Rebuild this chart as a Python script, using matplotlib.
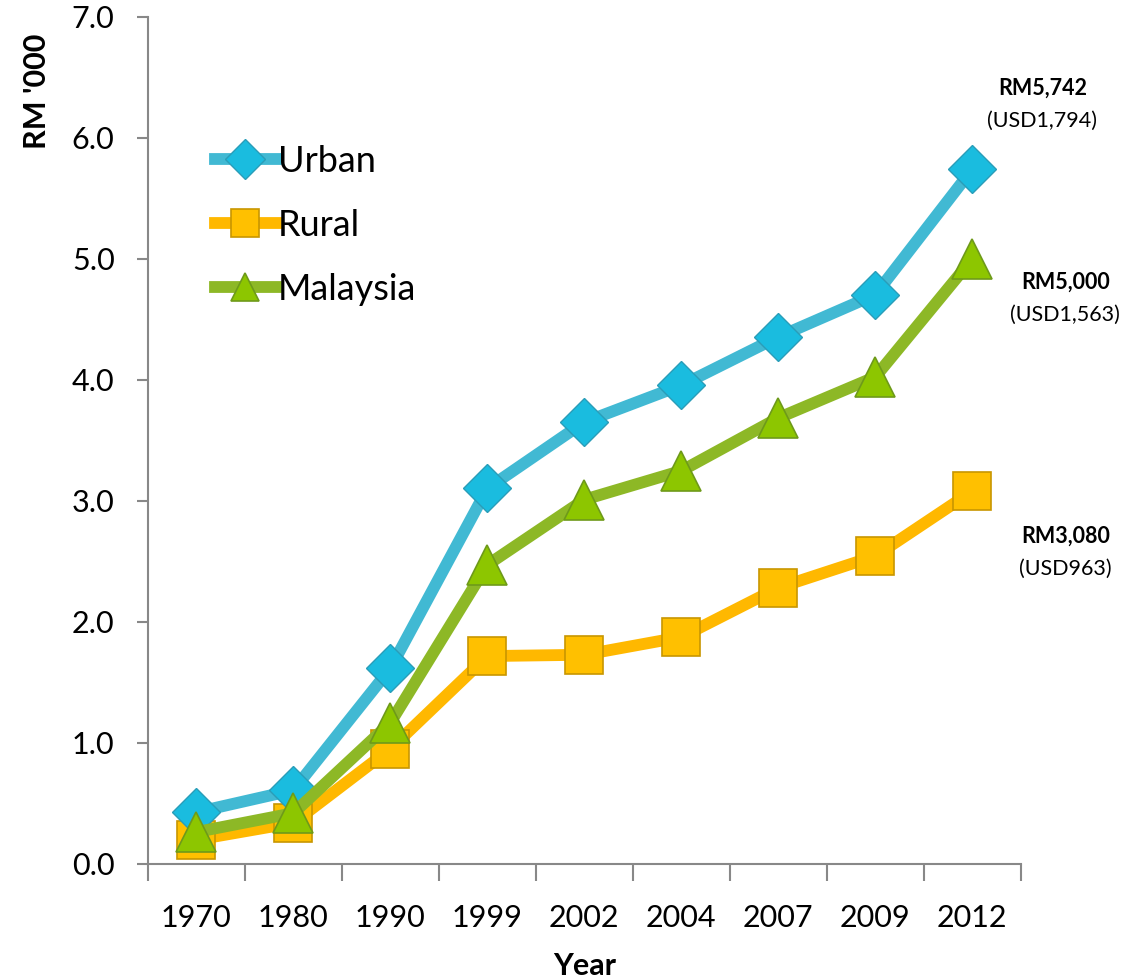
import matplotlib
matplotlib.use("Agg")
from matplotlib import pyplot as plt
from matplotlib.ticker import FixedLocator

years = ["1970", "1980", "1990", "1999", "2002", "2004", "2007", "2009", "2012"]
urban = [0.428, 0.61, 1.617, 3.103, 3.652, 3.956, 4.356, 4.705, 5.742]
rural = [0.200, 0.34, 0.951, 1.718, 1.729, 1.875, 2.283, 2.545, 3.080]
malaysia = [0.264, 0.42, 1.167, 2.472, 3.011, 3.249, 3.686, 4.025, 5.000]

end_labels = [("RM5,742", "(USD1,794)"), ("RM5,000", "(USD1,563)"), ("RM3,080", "(USD963)")]

plt.rcParams['font.family'] = ['Lato', 'DejaVu Sans']

fig = plt.figure(figsize=(11.38, 9.8), dpi=100)
ax = fig.add_axes([0.130, 0.1184, 0.767, 0.8643])

x = list(range(len(years)))

ax.plot(x, urban, color="#41B9D3", lw=8.5, marker="D", ms=24,
        mfc="#1ABCDF", mec="#2A9DB8", mew=1, label="Urban", zorder=3)
ax.plot(x, rural, color="#FFB800", lw=8.5, marker="s", ms=27,
        mfc="#FFC000", mec="#C89600", mew=1.2, label="Rural", zorder=2)
ax.plot(x, malaysia, color="#8DB826", lw=8.5, marker="^", ms=29,
        mfc="#8DC600", mec="#6E9A1A", mew=1.2, label="Malaysia", zorder=4)

ax.set_xlim(-0.5, len(years) - 0.5)
ax.set_ylim(0, 7.0)
ax.set_yticks([0, 1, 2, 3, 4, 5, 6, 7])
ax.set_yticklabels([f"{v:.1f}" for v in range(8)])
ax.set_xticks(x)
ax.set_xticklabels(years)
ax.xaxis.set_minor_locator(FixedLocator([i - 0.5 for i in range(len(years) + 1)]))
ax.tick_params(axis="x", which="major", length=0, pad=29, labelsize=22)
ax.tick_params(axis="x", which="minor", length=12, color="#888888", width=1.5)
ax.tick_params(axis="y", length=8, color="#888888", width=1.5, labelsize=22, pad=16)

for s in ["top", "right"]:
    ax.spines[s].set_visible(False)
for s in ["left", "bottom"]:
    ax.spines[s].set_color("#888888")
    ax.spines[s].set_linewidth(1.5)

ax.set_xlabel("Year", fontsize=22, fontweight="bold", labelpad=14)
ax.set_ylabel("RM '000", fontsize=22, fontweight="bold")
ax.yaxis.set_label_coords(-0.111, 0.912)

leg = ax.legend(loc="upper left", bbox_to_anchor=(0.060, 0.866), frameon=False,
                fontsize=26, handlelength=1.7, handletextpad=0.05, labelspacing=0.86,
                borderaxespad=0)
for h in leg.legend_handles:
    h.set_markersize(20)

series = [urban, malaysia, rural]
offsets = [(70, 81), (93, -23), (93, -45)]
for vals, (rm, usd), (dx, dy) in zip(series, end_labels, offsets):
    ax.annotate(rm, xy=(x[-1], vals[-1]), xytext=(dx, dy), textcoords="offset pixels",
                ha="center", va="center", fontsize=15.5, fontweight="bold", annotation_clip=False)
    ax.annotate(usd, xy=(x[-1], vals[-1]), xytext=(dx, dy - 33), textcoords="offset pixels",
                ha="center", va="center", fontsize=15.5, annotation_clip=False)

plt.savefig("out.png", dpi=100)
plt.close()
